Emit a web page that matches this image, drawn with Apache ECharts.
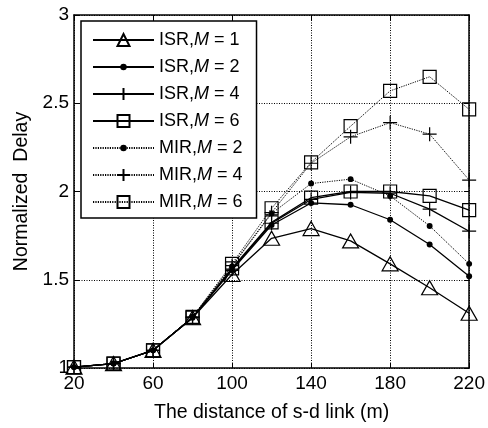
<!DOCTYPE html>
<html><head><meta charset="utf-8">
<script src="https://cdn.jsdelivr.net/npm/echarts@6/dist/echarts.min.js"></script>
<style>html,body{margin:0;padding:0;background:#fff}#c{width:488px;height:428px}</style>
</head><body><div id="c"></div>
<script>
const distances = [20,40,60,80,100,120,140,160,180,200,220];
const xTicks = [20,60,100,140,180,220];
const yTicks = [1,1.5,2,2.5,3];
const isrM1 = [1.005,1.025,1.10,1.285,1.53,1.735,1.79,1.72,1.59,1.455,1.31];
const isrM2 = [1.005,1.025,1.10,1.285,1.555,1.81,1.935,1.925,1.84,1.70,1.52];
const isrM4 = [1.005,1.025,1.10,1.285,1.56,1.82,1.955,1.995,1.99,1.90,1.775];
const isrM6 = [1.005,1.025,1.10,1.285,1.565,1.825,1.965,2.0,2.0,1.975,1.895];
const mirM2 = [1.005,1.025,1.10,1.29,1.575,1.875,2.045,2.07,1.975,1.805,1.59];
const mirM4 = [1.005,1.025,1.10,1.29,1.58,1.88,2.16,2.31,2.39,2.325,2.065];
const mirM6 = [1.005,1.025,1.10,1.29,1.59,1.905,2.165,2.37,2.57,2.65,2.465];

const FONT = 'Liberation Sans, Arial, sans-serif';
const PLUS = 'path://M5,0L5,10M0,5L10,5';
const DOT = 'path://M0,0M20,20M10,4.6A5.4,5.4,0,1,1,10,15.4A5.4,5.4,0,1,1,10,4.6Z';
const pair = arr => distances.map((d,i)=>[d,arr[i]]);

function mk(name, arr, symbol, size, dotted, filled){
  return {
    name, type:'line', data: pair(arr), symbol, symbolSize: size, showAllSymbol:true,
    lineStyle:{color:'#000', width: dotted?1:1.3, type: dotted?[1.2,1.2]:'solid'},
    itemStyle:{color: filled?'#000':'rgba(0,0,0,0)', borderColor:'#000', borderWidth: filled?0:1.2},
    emphasis:{disabled:true}, animation:false, z: 3
  };
}
const series = [
  mk('ISR,M = 1', isrM1, 'triangle', [16,14], false, false),
  mk('ISR,M = 2', isrM2, DOT, 11, false, true),
  mk('ISR,M = 4', isrM4, PLUS, 14, false, false),
  mk('ISR,M = 6', isrM6, 'rect', 13, false, false),
  mk('MIR,M = 2', mirM2, DOT, 11, true, true),
  mk('MIR,M = 4', mirM4, PLUS, 14, true, false),
  mk('MIR,M = 6', mirM6, 'rect', 13, true, false)
];

const gridLine = {show:true, lineStyle:{color:'#000', width:1, type:[1,1.5]}};
const chart = echarts.init(document.getElementById('c'), null, {renderer:'canvas'});
chart.setOption({
  backgroundColor:'#fff',
  animation:false,
  grid:{left:74, right:16, top:15, bottom:58, show:false},
  xAxis:[{
    type:'value', min:20, max:220, position:'bottom',
    name:'The distance of s-d link (m)', nameLocation:'middle', nameGap:35,
    nameTextStyle:{fontFamily:FONT, fontSize:19.5, color:'#000'},
    axisLine:{show:true, lineStyle:{color:'#000', width:1.5}},
    axisTick:{show:true, inside:true, length:5, customValues:xTicks, lineStyle:{color:'#000'}},
    axisLabel:{customValues:xTicks, fontFamily:FONT, fontSize:19, color:'#000', margin:6},
    splitLine:Object.assign({customValues:xTicks}, gridLine)
  },{
    type:'value', min:20, max:220, position:'top',
    axisLine:{show:true, onZero:false, lineStyle:{color:'#000', width:1.5}},
    axisTick:{show:true, inside:true, length:5, customValues:xTicks, lineStyle:{color:'#000'}},
    axisLabel:{show:false}, splitLine:{show:false}
  }],
  yAxis:[{
    type:'value', min:1, max:3, interval:0.5, position:'left',
    name:'Normalized  Delay', nameLocation:'middle', nameGap:38,
    nameTextStyle:{fontFamily:FONT, fontSize:19.5, color:'#000'},
    axisLine:{show:true, lineStyle:{color:'#000', width:1.5}},
    axisTick:{show:true, inside:true, length:5, lineStyle:{color:'#000'}},
    axisLabel:{fontFamily:FONT, fontSize:19, color:'#000', margin:5},
    splitLine:gridLine
  },{
    type:'value', min:1, max:3, interval:0.5, position:'right',
    axisLine:{show:true, onZero:false, lineStyle:{color:'#000', width:1.5}},
    axisTick:{show:true, inside:true, length:5, lineStyle:{color:'#000'}},
    axisLabel:{show:false}, splitLine:{show:false}
  }],
  legend:{
    orient:'vertical', left:81, top:21,
    backgroundColor:'#fff', borderColor:'#000', borderWidth:1.5,
    padding:[10,14,7,11], itemWidth:61, itemHeight:15, itemGap:9,
    textStyle:{fontFamily:FONT, fontSize:18, color:'#000',
      rich:{i:{fontFamily:FONT, fontSize:18, fontStyle:'italic', color:'#000'}}},
    formatter: n => n.replace(',M', ',{i|M}'),
    data: series.map(s=>s.name)
  },
  series
});
</script></body></html>
